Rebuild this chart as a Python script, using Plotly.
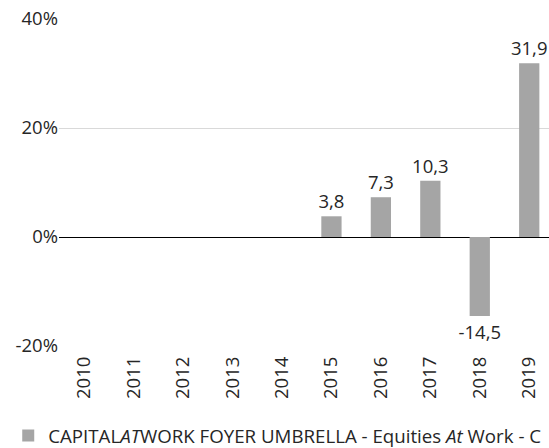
import plotly.graph_objects as go

years = ["2010", "2011", "2012", "2013", "2014", "2015", "2016", "2017", "2018", "2019"]
returns = [None, None, None, None, None, 3.8, 7.3, 10.3, -14.5, 31.9]
series_name = "CAPITAL<i>AT</i>WORK FOYER UMBRELLA - Equities <i>At</i> Work - C"
y_ticks = [-20, 0, 20, 40]
y_tick_labels = ["-20%", "0%", "20%", "40%"]

labels = ["" if v is None else f"{v:.1f}".replace(".", ",") for v in returns]

fig = go.Figure()
fig.add_trace(go.Bar(
    x=years, y=returns, name=series_name,
    marker=dict(color="#A5A5A5", line=dict(width=0)),
    width=0.41,
    text=labels, textposition="outside", constraintext="none",
    textfont=dict(size=18.5, color="#262626", family="Open Sans"),
    cliponaxis=False,
    showlegend=True,
))

fig.update_layout(
    width=549, height=448,
    margin=dict(l=59, r=0, t=19, b=102, autoexpand=False),
    paper_bgcolor="white", plot_bgcolor="white",
    font=dict(family="Open Sans", size=18.5, color="#262626"),
    showlegend=True,
    legend=dict(orientation="h", xref="container", yref="container",
                x=0.015, xanchor="left", y=0.027, yanchor="middle",
                font=dict(size=18.7, color="#262626"), itemwidth=30,
                bgcolor="rgba(0,0,0,0)"),
    xaxis=dict(type="category", range=[-0.51, 9.4], tickangle=-90, showgrid=False,
               showline=False, ticks="", tickfont=dict(size=18.5), automargin=False,
               ticklabelstandoff=6),
    yaxis=dict(range=[-20, 40], tickvals=y_ticks, ticktext=y_tick_labels, showgrid=True,
               gridcolor="#D9D9D9", gridwidth=1, zeroline=True, zerolinecolor="#000000",
               zerolinewidth=1, showline=False, ticks="", tickfont=dict(size=18.5),
               automargin=False),
)

fig.write_html("out.html", config={"displayModeBar": False},
               post_script="document.body.style.margin='0';document.body.style.overflow='hidden';")
